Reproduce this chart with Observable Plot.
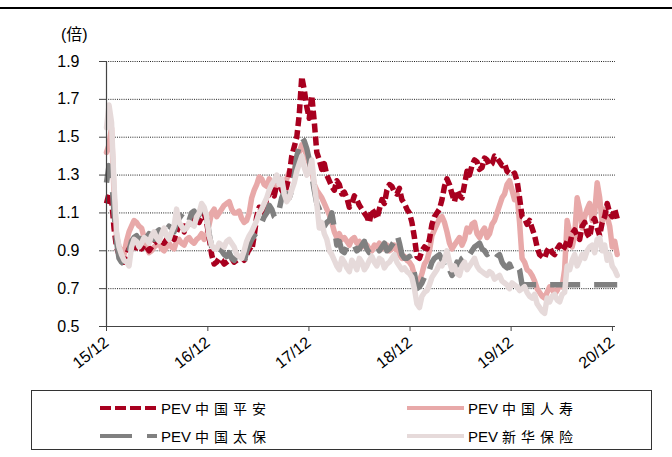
<!DOCTYPE html>
<html>
<head>
<meta charset="utf-8">
<script src="https://cdn.jsdelivr.net/npm/d3@7"></script>
<script src="https://cdn.jsdelivr.net/npm/@observablehq/plot@0.6"></script>
<style>
  html, body { margin: 0; padding: 0; background: #fff; }
  body { width: 672px; height: 457px; overflow: hidden; font-family: "Liberation Sans", Arial, sans-serif; }
  #wrap { position: relative; width: 672px; height: 457px; }
  #topline { position: absolute; left: 0; top: 7px; width: 672px; height: 2px; background: #000; }
  #unit { position: absolute; left: 61px; top: 21px; font-size: 16px; font-family: "Liberation Sans", "Noto Sans CJK SC", sans-serif; color: #000; }
  #chart { position: absolute; left: 0; top: 0; }
  #legend { position: absolute; left: 31px; top: 390px; width: 621px; height: 60px; border: 1px solid #333; box-sizing: border-box; }
  .item { position: absolute; display: flex; align-items: center; font-size: 15px; color: #000; }
  .item svg { display: block; }
  .item .lab { margin-left: 4px; white-space: nowrap; }
  .item .cjk { font-family: "Noto Sans CJK SC", sans-serif; letter-spacing: 5px; margin-left: 4px; font-size: 14px; }
</style>
</head>
<body>
<div id="wrap">
  <div id="topline"></div>
  <div id="chart"></div>
  <div id="unit">(倍)</div>
  <div id="legend"></div>
</div>
<script>
// ---- data (one value every ~9 days from Dec 2015) ----
const seriesNames = ["PEV 中国平安", "PEV 中国人寿", "PEV 中国太保", "PEV 新华保险"];
const seriesColors = ["#a8001f", "#e8a9a9", "#808080", "#e6dada"];
const xTickLabels = ["15/12", "16/12", "17/12", "18/12", "19/12", "20/12"];
const yTicks = [0.5, 0.7, 0.9, 1.1, 1.3, 1.5, 1.7, 1.9];

const pingan = [
  1.15,1.20,1.18,1.02,0.92,0.88,0.86,0.84,0.88,0.91,
  0.90,0.89,0.93,0.95,0.91,0.93,0.92,0.90,0.92,0.94,
  0.95,0.97,0.95,0.94,0.96,0.98,0.97,0.96,1.00,1.03,
  1.02,1.00,1.05,1.04,1.06,1.08,1.07,1.05,1.08,1.10,
  1.05,0.97,0.88,0.83,0.84,0.86,0.85,0.83,0.84,0.85,
  0.86,0.84,0.85,0.86,0.87,0.85,0.88,0.91,0.90,0.98,
  1.08,1.13,1.12,1.10,1.18,1.20,1.22,1.19,1.25,1.28,
  1.22,1.20,1.24,1.30,1.40,1.45,1.50,1.62,1.82,1.75,
  1.66,1.60,1.72,1.58,1.42,1.38,1.33,1.36,1.30,1.27,
  1.24,1.22,1.27,1.25,1.20,1.21,1.18,1.13,1.15,1.19,
  1.17,1.14,1.12,1.10,1.08,1.05,1.12,1.10,1.07,1.12,
  1.17,1.15,1.22,1.25,1.24,1.21,1.20,1.23,1.17,1.15,
  1.12,1.10,1.05,0.97,0.87,0.86,0.90,0.92,0.91,0.96,
  1.04,1.08,1.10,1.12,1.17,1.24,1.28,1.25,1.20,1.16,
  1.22,1.19,1.18,1.25,1.32,1.30,1.35,1.38,1.37,1.33,
  1.34,1.39,1.38,1.35,1.36,1.40,1.39,1.37,1.35,1.36,
  1.32,1.31,1.30,1.31,1.27,1.18,1.08,1.07,1.04,1.06,
  1.02,0.98,0.92,0.88,0.87,0.86,0.90,0.92,0.89,0.88,
  0.91,0.93,0.90,0.92,0.95,0.93,0.99,1.01,0.98,0.96,
  1.03,1.05,0.99,0.97,1.05,1.07,1.02,0.98,1.05,1.08,
  1.15,1.10,1.08,1.12,1.07];
const renshou = [
  1.42,1.46,1.55,1.20,0.98,0.92,0.90,0.88,0.95,1.00,
  1.03,1.06,1.05,1.03,1.02,0.97,0.92,0.89,0.90,0.92,
  0.93,0.95,0.91,0.90,0.92,0.94,0.92,0.91,0.95,0.96,
  0.94,0.93,0.96,0.97,0.95,0.94,0.96,0.97,0.99,0.96,
  0.98,1.04,1.10,1.12,1.08,1.10,1.12,1.14,1.15,1.16,
  1.12,1.10,1.10,1.11,1.07,1.05,1.06,1.10,1.18,1.22,
  1.25,1.29,1.28,1.25,1.24,1.28,1.26,1.23,1.24,1.27,
  1.26,1.24,1.28,1.32,1.30,1.33,1.38,1.42,1.46,1.44,
  1.40,1.36,1.32,1.25,1.22,1.20,1.18,1.15,1.12,1.09,
  1.05,1.00,0.97,0.99,0.96,0.97,0.95,0.93,0.96,0.97,
  0.94,0.95,0.92,0.94,0.93,0.91,0.90,0.93,0.92,0.94,
  0.91,0.92,0.93,0.90,0.91,0.93,0.90,0.88,0.86,0.87,
  0.85,0.84,0.82,0.77,0.72,0.74,0.78,0.83,0.85,0.90,
  0.98,1.01,1.04,1.07,1.08,1.05,1.00,0.94,0.91,0.93,
  0.95,0.97,0.93,0.96,1.02,1.00,1.04,1.05,0.99,0.97,
  1.00,1.02,0.97,0.99,1.04,1.06,1.10,1.14,1.18,1.20,
  1.25,1.27,1.22,1.17,1.20,1.05,0.86,0.84,0.80,0.79,
  0.77,0.74,0.70,0.68,0.66,0.65,0.68,0.71,0.70,0.67,
  0.69,0.72,0.71,0.80,1.06,1.00,0.92,0.98,1.18,1.12,
  1.02,1.08,1.12,1.15,1.06,1.10,1.26,1.18,1.05,1.12,
  1.08,1.03,0.92,0.95,0.88];
const taibao = [
  1.26,1.35,1.30,1.10,0.95,0.86,0.84,0.83,0.86,0.90,
  0.95,0.97,0.98,0.95,1.00,1.01,0.97,0.99,0.98,0.96,
  1.00,1.01,0.97,0.99,1.01,1.03,1.02,1.00,1.05,1.07,
  1.09,1.11,1.08,1.06,1.10,1.11,1.07,1.09,1.12,1.13,
  1.08,0.99,0.92,0.88,0.89,0.91,0.90,0.88,0.87,0.89,
  0.86,0.85,0.88,0.87,0.85,0.84,0.90,0.93,0.96,0.98,
  1.00,1.02,1.05,1.08,1.10,1.14,1.12,1.08,1.07,1.12,
  1.18,1.21,1.20,1.18,1.22,1.30,1.40,1.45,1.50,1.48,
  1.44,1.38,1.30,1.22,1.15,1.12,1.08,1.03,1.05,1.06,
  1.10,1.02,0.93,0.95,0.90,0.89,0.92,0.94,0.95,0.93,
  0.90,0.91,0.93,0.95,0.91,0.89,0.90,0.92,0.93,0.90,
  0.92,0.94,0.90,0.91,0.93,0.95,0.99,0.94,0.88,0.86,
  0.86,0.87,0.84,0.78,0.70,0.71,0.73,0.76,0.75,0.80,
  0.84,0.86,0.87,0.88,0.85,0.82,0.78,0.80,0.77,0.79,
  0.84,0.83,0.86,0.87,0.85,0.88,0.90,0.92,0.93,0.94,
  0.91,0.90,0.88,0.89,0.86,0.85,0.87,0.88,0.84,0.82,
  0.81,0.83,0.80,0.79,0.82,0.80,0.72,0.72,0.72,0.72,
  0.72,0.72,0.72,0.72,0.72,0.72,0.72,0.72,0.72,0.72,
  0.72,0.72,0.72,0.72,0.72,0.72,0.72,0.72,0.72,0.72,
  0.72,0.72,0.72,0.72,0.72,0.72,0.72,0.72,0.72,0.72,
  0.72,0.72,0.72,0.72,0.72];
const xinhua = [
  1.55,1.67,1.58,1.25,1.00,0.92,0.88,0.85,0.84,0.82,
  0.92,0.96,0.95,0.92,0.94,0.97,0.96,0.94,0.98,1.00,
  0.97,0.95,0.99,1.02,0.98,0.96,1.00,1.03,1.12,1.05,
  1.03,1.01,1.02,1.05,1.04,1.03,1.08,1.10,1.15,1.13,
  1.08,0.98,0.93,0.91,0.91,0.94,0.93,0.92,0.95,0.96,
  0.94,0.92,0.88,0.87,0.86,0.90,0.95,0.98,1.00,1.03,
  1.06,1.10,1.12,1.15,1.18,1.22,1.25,1.27,1.30,1.25,
  1.28,1.20,1.16,1.18,1.22,1.26,1.32,1.36,1.40,1.34,
  1.30,1.32,1.38,1.25,1.15,1.02,1.05,0.99,0.96,0.90,
  0.88,0.85,0.82,0.80,0.86,0.84,0.81,0.79,0.85,0.83,
  0.80,0.86,0.84,0.80,0.82,0.85,0.87,0.84,0.82,0.86,
  0.85,0.81,0.83,0.84,0.86,0.88,0.84,0.82,0.80,0.81,
  0.79,0.78,0.76,0.70,0.62,0.60,0.66,0.68,0.69,0.72,
  0.76,0.78,0.80,0.83,0.82,0.85,0.90,0.84,0.80,0.82,
  0.78,0.77,0.82,0.84,0.80,0.82,0.84,0.86,0.82,0.80,
  0.79,0.78,0.77,0.79,0.78,0.75,0.76,0.77,0.74,0.73,
  0.72,0.70,0.73,0.72,0.71,0.69,0.70,0.71,0.68,0.66,
  0.65,0.67,0.62,0.60,0.58,0.57,0.65,0.63,0.66,0.67,
  0.64,0.63,0.67,0.68,0.82,0.80,0.85,0.88,0.82,0.85,
  0.88,0.86,0.90,0.92,0.93,0.89,0.96,0.97,0.90,0.93,
  0.85,0.88,0.82,0.80,0.77];

// ---- time axis ----
const DAY = 864e5;
const start = Date.UTC(2015, 11, 1);
const stepDays = 9.04;
const dates = pingan.map((_, i) => new Date(start + i * stepDays * DAY));
const xTicks = xTickLabels.map((_, k) => new Date(Date.UTC(2015 + k, 11, 1)));
const xEnd = new Date(Date.UTC(2020, 11, 12));

const allSeries = [pingan, renshou, taibao, xinhua];
const rows = [];
allSeries.forEach((vals, s) => vals.forEach((v, i) => rows.push({date: dates[i], value: v, name: seriesNames[s]})));

const dashes = [ "9,4", null, "30,14", null ];
const drawOrder = [1, 0, 2, 3];

const chart = Plot.plot({
  width: 672,
  height: 380,
  marginTop: 61,
  marginBottom: 54,
  marginLeft: 106,
  marginRight: 57,
  style: { fontFamily: "Liberation Sans, Arial, sans-serif", color: "#000", background: "transparent", overflow: "visible" },
  x: { type: "utc", domain: [new Date(start), xEnd] },
  y: { domain: [0.5, 1.9] },
  marks: [
    Plot.gridY(yTicks.filter(t => t > 0.5), { stroke: "#222", strokeOpacity: 1, strokeDasharray: "1,1.2", strokeWidth: 1 }),
    ...drawOrder.map(s => Plot.line(rows.filter(r => r.name === seriesNames[s]), {
      x: "date", y: "value", stroke: seriesColors[s], strokeWidth: 5.5,
      strokeLinejoin: "round", strokeLinecap: dashes[s] ? "butt" : "round",
      strokeDasharray: dashes[s] || undefined, clip: false
    })),
    Plot.axisY(yTicks, { label: null, tickSize: 7, tickPadding: 20, fontSize: 16, stroke: "#444", tickFormat: d3.format(".1f") }),
    Plot.axisX(xTicks, { label: null, tickSize: 5, tickPadding: 9, fontSize: 16, tickRotate: -38, stroke: "#444",
      tickFormat: (d, i) => xTickLabels[i] }),
    Plot.ruleX([new Date(start)], { stroke: "#444", strokeWidth: 1.2 }),
    Plot.ruleY([0.5], { stroke: "#444", strokeWidth: 1.2 })
  ]
});
document.getElementById("chart").appendChild(chart);

// ---- legend ----
const legend = document.getElementById("legend");
const legendPos = [[68, 7], [375, 7], [68, 35], [375, 35]];
seriesNames.forEach((name, s) => {
  const it = document.createElement("div");
  it.className = "item";
  it.style.left = legendPos[s][0] + "px";
  it.style.top = legendPos[s][1] + "px";
  const dash = dashes[s] ? (s === 0 ? "11,4" : "32,15") : "";
  it.innerHTML = `<svg width="57" height="20"><line x1="0" y1="10" x2="57" y2="10" stroke="${seriesColors[s]}" stroke-width="4" ${dash ? `stroke-dasharray="${dash}"` : ""}/></svg>` +
    `<span class="lab">${name.split(" ")[0]}<span class="cjk">${name.split(" ")[1]}</span></span>`;
  legend.appendChild(it);
});
</script>
</body>
</html>
